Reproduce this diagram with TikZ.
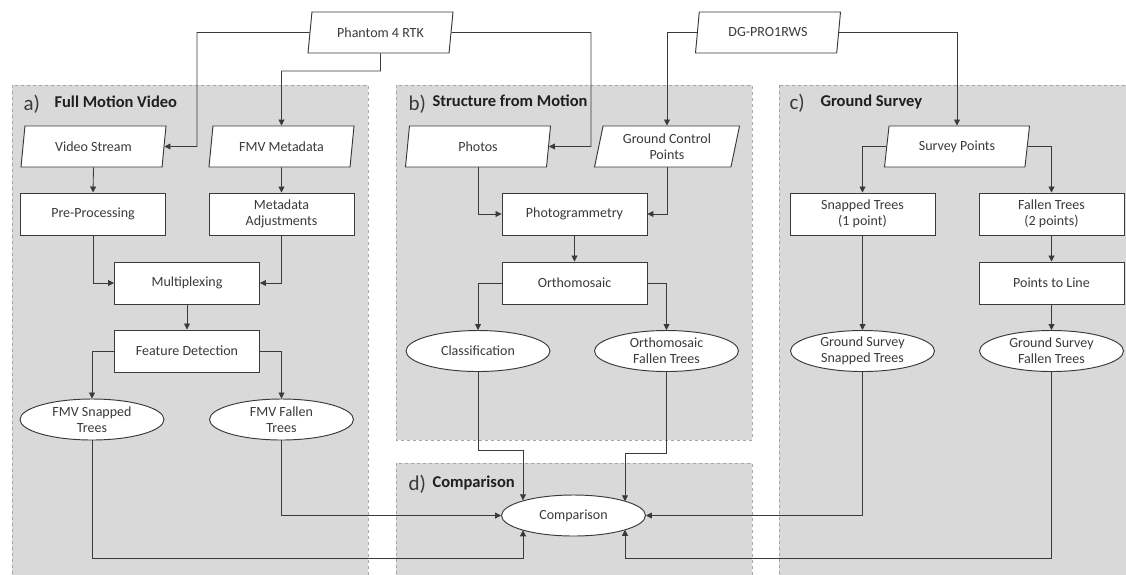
\documentclass[tikz,border=0pt]{standalone}
\usepackage{fontspec}
\setmainfont{Carlito}
\usetikzlibrary{shapes.geometric,arrows.meta}
\definecolor{ink}{HTML}{3A3A3A}
\definecolor{titleink}{HTML}{1F1F1F}
\definecolor{panelfill}{HTML}{D9D9D9}
\definecolor{panelline}{HTML}{A6A6A6}
\begin{document}
\begin{tikzpicture}[x=1pt,y=-1pt,
  every node/.style={font=\fontsize{14}{16}\selectfont, text=ink, align=center},
  box/.style={draw=ink, line width=0.95pt, fill=white, rectangle,
    minimum width=145pt, minimum height=42pt, inner sep=2pt},
  data/.style={draw=ink, line width=0.95pt, fill=white, trapezium,
    trapezium left angle=74, trapezium right angle=106,
    trapezium stretches body, minimum width=145pt, minimum height=41pt, inner sep=2pt},
  result/.style={draw=ink, line width=0.95pt, fill=white, ellipse,
    minimum width=144pt, minimum height=41pt, inner sep=0pt},
  panel/.style={fill=panelfill, draw=panelline, dashed, line width=0.8pt},
  letter/.style={anchor=base west, font=\fontsize{21}{21}\selectfont, text=ink},
  heading/.style={anchor=base west, font=\bfseries\fontsize{16.5}{18}\selectfont, text=titleink},
  arr/.style={draw=ink, line width=0.85pt, -{Triangle[length=6pt,width=6pt]}}
]
\clip (0,0) rectangle (1126,574);
\fill[white] (0,0) rectangle (1126,574);

% grouping panels
\draw[panel] (12,85) rectangle (368,590);
\draw[panel] (396,85) rectangle (752,440);
\draw[panel] (396,463) rectangle (752,590);
\draw[panel] (779,85) rectangle (1140,590);

\node[letter]  (la) at (20,110) {a)};
\node[heading] (ta) at (51,107) {Full Motion Video};
\node[letter]  (lb) at (405,110) {b)};
\node[heading] (tb) at (429,106) {Structure from Motion};
\node[letter]  (lc) at (786,109) {c)};
\node[heading] (tc) at (817,106) {Ground Survey};
\node[letter]  (ld) at (405,490) {d)};
\node[heading] (td) at (429,487) {Comparison};

% sensors
\node[data] (ph) at (380.5,32.5) {Phantom 4 RTK};
\node[data] (dg) at (768,32.5) {DG-PRO1RWS};

% a) full motion video
\node[data]   (vs)  at (93.5,146.5) {Video Stream};
\node[data]   (fm)  at (281.5,146.5) {FMV Metadata};
\node[box]    (pre) at (93,214) {Pre-Processing};
\node[box]    (mad) at (281.5,214) {Metadata\\Adjustments};
\node[box]    (mux) at (187,283) {Multiplexing};
\node[box]    (fd)  at (187,351) {Feature Detection};
\node[result] (fst) at (92,419.5) {FMV Snapped\\Trees};
\node[result] (fft) at (281.5,419.5) {FMV Fallen\\Trees};

% b) structure from motion
\node[data]   (pho) at (478,146.5) {Photos};
\node[data]   (gcp) at (667,146.5) {Ground Control\\Points};
\node[box]    (pg)  at (574.5,214) {Photogrammetry};
\node[box]    (orth) at (574.5,283) {Orthomosaic};
\node[result] (cls) at (478,351) {Classification};
\node[result] (oft) at (666.5,351) {Orthomosaic\\Fallen Trees};

% c) ground survey
\node[data]   (sp)  at (957,146.5) {Survey Points};
\node[box]    (st)  at (862.5,214) {Snapped Trees\\(1 point)};
\node[box]    (ft)  at (1051.5,214) {Fallen Trees\\(2 points)};
\node[box]    (ptl) at (1051.5,283) {Points to Line};
\node[result] (gss) at (862.5,351) {Ground Survey\\Snapped Trees};
\node[result] (gsf) at (1051.5,351) {Ground Survey\\Fallen Trees};

% d) comparison
\node[result] (cmp) at (573.5,515.5) {Comparison};

% bend points
\coordinate (j1) at (197,146.5);
\coordinate (j2) at (281.5,71);
\coordinate (j3) at (591,146.5);
\coordinate (j4) at (523,450);
\coordinate (j5) at (625,453);
\coordinate (j6) at (523,558);
\coordinate (j7) at (625,558);

% sensor outputs
\draw[arr] (ph.west) -| (j1) -- (vs.east);
\draw[arr] (ph.south) |- (j2) -- (fm.north);
\draw[arr] (ph.east) -| (j3) -- (pho.east);
\draw[arr] (dg.west) -| (gcp.north);
\draw[arr] (dg.east) -| (sp.north);

% a)
\draw[arr] (vs.south) -- (pre.north);
\draw[arr] (fm.south) -- (mad.north);
\draw[arr] (pre.south) |- (mux.west);
\draw[arr] (mad.south) |- (mux.east);
\draw[arr] (mux.south) -- (fd.north);
\draw[arr] (fd.west) -| (fst.north);
\draw[arr] (fd.east) -| (fft.north);

% b)
\draw[arr] (pho.south) |- (pg.west);
\draw[arr] (gcp.south) |- (pg.east);
\draw[arr] (pg.south) -- (orth.north);
\draw[arr] (orth.west) -| (cls.north);
\draw[arr] (orth.east) -| (oft.north);

% c)
\draw[arr] (sp.west) -| (st.north);
\draw[arr] (sp.east) -| (ft.north);
\draw[arr] (st.south) -- (gss.north);
\draw[arr] (ft.south) -- (ptl.north);
\draw[arr] (ptl.south) -- (gsf.north);

% into the comparison
\draw[arr] (cls.south) |- (j4) -- (j4 |- cmp.163.8);
\draw[arr] (oft.south) |- (j5) -- (j5 |- cmp.15.6);
\draw[arr] (fft.south) |- (cmp.west);
\draw[arr] (fst.south) |- (j6) -- (j6 |- cmp.196.2);
\draw[arr] (gss.south) |- (cmp.east);
\draw[arr] (gsf.south) |- (j7) -- (j7 |- cmp.-15.6);
\end{tikzpicture}
\end{document}
